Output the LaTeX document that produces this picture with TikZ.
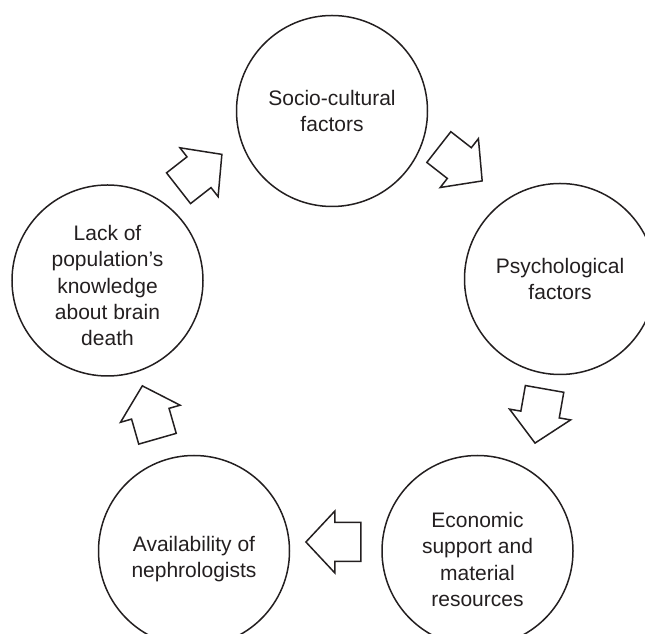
\documentclass[tikz,border=0pt]{standalone}
\usepackage{fontspec}
\setmainfont{Liberation Sans}
\usepackage{xcolor}
\usepackage{tikz}
\definecolor{cycleink}{HTML}{231F20}

\tikzset{
  bigarrow/.pic={\draw[cycleink,line width=1.5pt,line join=miter]
    (-27.5,-19.5) -- (-1.5,-19.5) -- (-1.5,-31) -- (27.5,0) -- (-1.5,31) -- (-1.5,19.5) -- (-27.5,19.5) -- cycle;}
}

\begin{document}
\begin{tikzpicture}[x=1pt,y=1pt,
  factor/.style={circle,draw=cycleink,line width=1.5pt,minimum size=191pt,inner sep=0},
  ftext/.style={align=center,text=cycleink,font=\fontsize{21}{26.2}\selectfont}]
  \useasboundingbox (0,0) rectangle (645,634);
  \clip (0,0) rectangle (645,634);
  \foreach \i/\x/\y/\dy/\txt in {%
    1/332/523/0/{Socio-cultural\\factors},
    2/560/355/0/{Psychological\\factors},
    3/477.5/83/-8.5/{Economic\\support and\\material\\resources},
    4/194/83/-8/{Availability of\\nephrologists},
    5/107.5/353.5/-5/{Lack of\\population’s\\knowledge\\about brain\\death}}{
      \node[factor] (c\i) at (\x,\y) {};
      \node[ftext] (t\i) at ([yshift=\dy]c\i) {\txt};
  }
  % block arrows round the cycle
  \foreach \a/\x/\y/\r in {12/460.5/470/-38, 23/539.8/218/-100, 34/333.4/92/180,
                           45/149.9/221.7/106, 51/200.2/462.7/38}{
      \pic[rotate=\r] (a\a) at (\x,\y) {bigarrow};
  }
\end{tikzpicture}
\end{document}
